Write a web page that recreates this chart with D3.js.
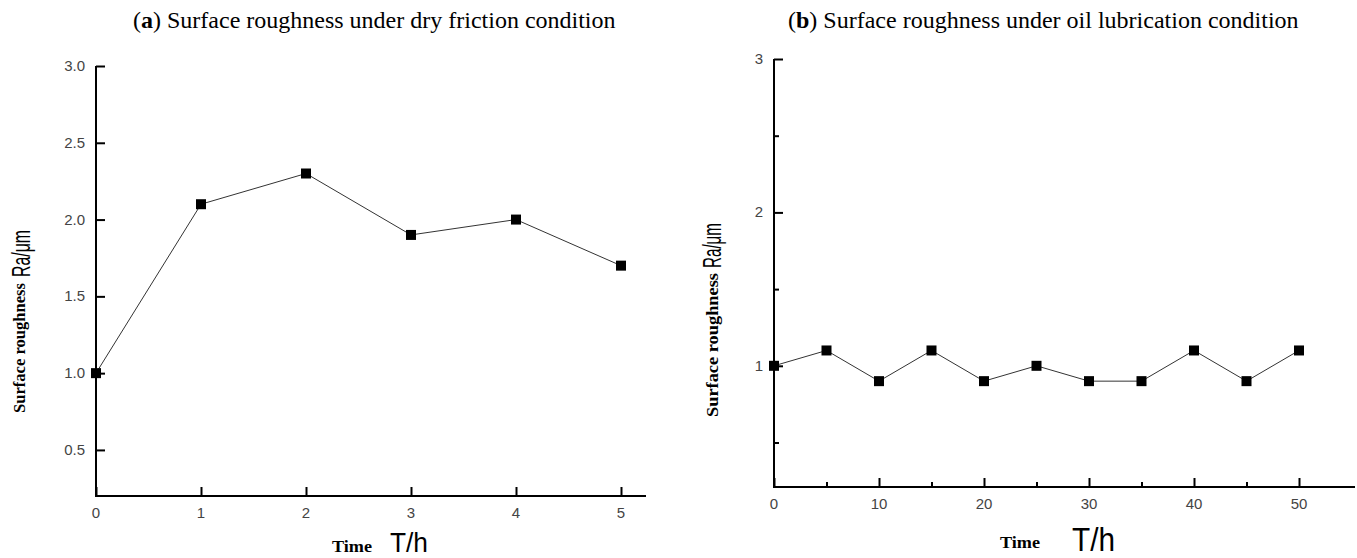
<!DOCTYPE html>
<html><head><meta charset="utf-8">
<script src="https://cdn.jsdelivr.net/npm/d3@7"></script>
<style>body{margin:0;background:#fff}svg{display:block}</style>
</head><body>
<svg id="c" width="1357" height="558"></svg>
<script>
// Panel (a): dry friction
const timeA = [0, 1, 2, 3, 4, 5];
const raA = [1.0, 2.1, 2.3, 1.9, 2.0, 1.7];
const yTicksA = [0.5, 1.0, 1.5, 2.0, 2.5, 3.0];
const xTicksA = [0, 1, 2, 3, 4, 5];
// Panel (b): oil lubrication
const timeB = [0, 5, 10, 15, 20, 25, 30, 35, 40, 45, 50];
const raB = [1.0, 1.1, 0.9, 1.1, 0.9, 1.0, 0.9, 0.9, 1.1, 0.9, 1.1];
const yTicksB = [1, 2, 3];
const yMinorB = [0.5, 1.5, 2.5];
const xTicksB = [0, 10, 20, 30, 40, 50];
const xMinorB = [5, 15, 25, 35, 45];

const svg = d3.select("#c");
const serif = "'Liberation Serif','Times New Roman',serif";
const sans = "'Liberation Sans',Arial,sans-serif";

function panel(o) {
  const g = svg.append("g");
  const x = d3.scaleLinear().domain(o.xDom).range([o.x0, o.x1]);
  const y = d3.scaleLinear().domain(o.yDom).range([o.yBot, o.yTop]);
  // title
  const t = g.append("text").attr("x", o.titleX).attr("y", 28).attr("text-anchor", "start")
    .attr("font-family", serif).attr("font-size", 24).attr("fill", "#000");
  t.append("tspan").text("(");
  t.append("tspan").attr("font-weight", "bold").text(o.letter);
  t.append("tspan").text(") " + o.title);

  // y axis
  const yg = g.append("g").attr("transform", `translate(${o.x0},0)`)
    .call(d3.axisRight(y).tickValues(o.yTicks).tickSize(9).tickFormat(() => ""));
  if (o.yMinor) {
    g.append("g").attr("transform", `translate(${o.x0},0)`)
      .call(d3.axisRight(y).tickValues(o.yMinor).tickSize(5).tickFormat(() => ""))
      .call(s => s.select(".domain").remove());
  }
  // x axis
  const xg = g.append("g").attr("transform", `translate(0,${o.yBot})`)
    .call(d3.axisTop(x).tickValues(o.xTicks).tickSize(9).tickFormat(() => ""));
  if (o.xMinor) {
    g.append("g").attr("transform", `translate(0,${o.yBot})`)
      .call(d3.axisTop(x).tickValues(o.xMinor).tickSize(5).tickFormat(() => ""))
      .call(s => s.select(".domain").remove());
  }
  g.selectAll(".domain").attr("stroke", "#000").attr("stroke-width", 2);
  g.selectAll(".tick line").attr("stroke", "#000").attr("stroke-width", 2);
  yg.select(".domain").attr("d", `M0,${o.yTop}V${o.yBot + 1}`);
  xg.select(".domain").attr("d", `M${o.x0 - 1},0H${o.xEnd}`);

  // tick labels
  g.selectAll(".ylab").data(o.yTicks).join("text")
    .attr("x", o.x0 - 11).attr("y", d => y(d) + 5).attr("text-anchor", "end")
    .attr("font-family", sans).attr("font-size", 15).attr("fill", "#444")
    .text(o.yFmt);
  g.selectAll(".xlab").data(o.xTicks).join("text")
    .attr("x", d => x(d)).attr("y", o.yBot + 22).attr("text-anchor", "middle")
    .attr("font-family", sans).attr("font-size", 15).attr("fill", "#444")
    .text(d => d);

  // y axis title (rotated, reading bottom to top)
  g.append("text").attr("transform", `translate(${o.srX},${o.srY}) rotate(-90)`)
    .attr("font-family", serif).attr("font-weight", "bold").attr("font-size", 17)
    .attr("textLength", o.srLen).attr("lengthAdjust", "spacingAndGlyphs")
    .attr("fill", "#000").text("Surface roughness");
  g.append("text").attr("transform", `translate(${o.raX},${o.raY}) rotate(-90)`)
    .attr("font-family", sans).attr("font-size", 26)
    .attr("textLength", o.raLen).attr("lengthAdjust", "spacingAndGlyphs")
    .attr("fill", "#000").text("Ra/μm");

  // x axis title
  g.append("text").attr("x", o.timeX).attr("y", o.timeY)
    .attr("font-family", serif).attr("font-weight", "bold").attr("font-size", 16)
    .attr("textLength", 40).attr("lengthAdjust", "spacingAndGlyphs")
    .attr("fill", "#000").text("Time");
  g.append("text").attr("x", o.thX).attr("y", o.thY)
    .attr("font-family", sans).attr("font-size", o.thSize)
    .attr("textLength", o.thLen).attr("lengthAdjust", "spacingAndGlyphs")
    .attr("fill", "#000").text("T/h");

  // data
  const pts = o.xs.map((d, i) => [d, o.ys[i]]);
  g.append("path").datum(pts)
    .attr("d", d3.line().x(d => x(d[0])).y(d => y(d[1])))
    .attr("fill", "none").attr("stroke", "#333").attr("stroke-width", 1);
  g.selectAll(".pt").data(pts).join("rect")
    .attr("x", d => x(d[0]) - 5).attr("y", d => y(d[1]) - 5)
    .attr("width", 10).attr("height", 10).attr("fill", "#000");
}

panel({letter: "a", title: "Surface roughness under dry friction condition", titleX: 133,
  xDom: [0, 5], x0: 96, x1: 621, xEnd: 646,
  yDom: [0.2, 3.0], yBot: 496, yTop: 66,
  yTicks: yTicksA, xTicks: xTicksA, yFmt: d => d.toFixed(1),
  xs: timeA, ys: raA,
  srX: 25, srY: 413, srLen: 130, raX: 30, raY: 277, raLen: 47,
  timeX: 332, timeY: 552, thX: 390, thY: 552, thSize: 27, thLen: 38});

panel({letter: "b", title: "Surface roughness under oil lubrication condition", titleX: 788,
  xDom: [0, 50], x0: 774, x1: 1299, xEnd: 1355,
  yDom: [0.21, 3.0], yBot: 487, yTop: 59,
  yTicks: yTicksB, yMinor: yMinorB, xTicks: xTicksB, xMinor: xMinorB, yFmt: d => d,
  xs: timeB, ys: raB,
  srX: 718, srY: 417, srLen: 144, raX: 721, raY: 268, raLen: 45,
  timeX: 1000, timeY: 548, thX: 1072, thY: 551, thSize: 34, thLen: 43});
</script>
</body></html>
